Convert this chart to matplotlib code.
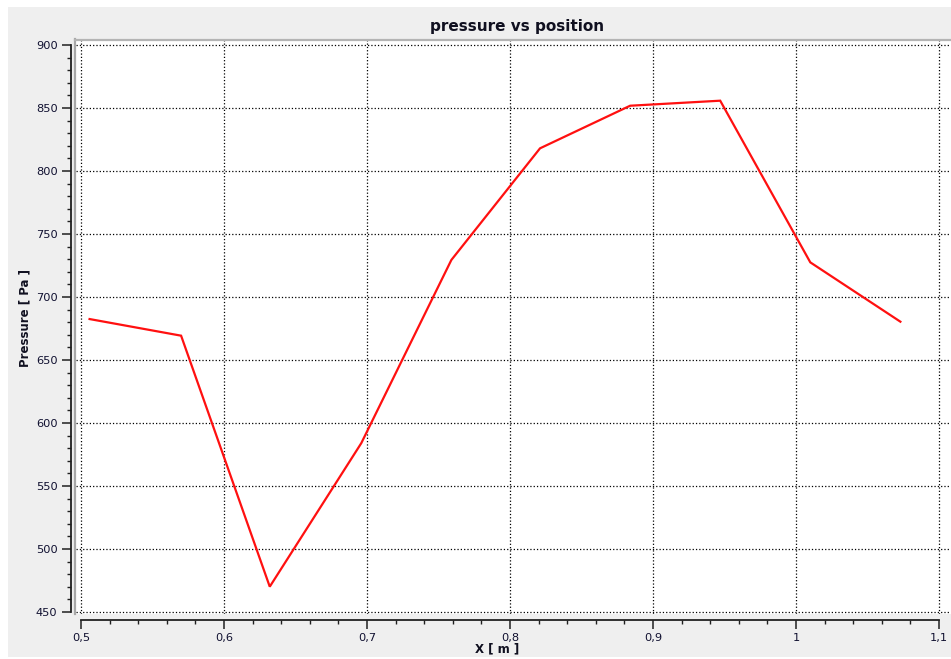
import numpy as np
import matplotlib.pyplot as plt
from matplotlib.patches import Rectangle
from matplotlib.lines import Line2D
from matplotlib.ticker import MultipleLocator, FuncFormatter

# pressure samples along the position axis
position = [0.506, 0.570, 0.632, 0.696, 0.759, 0.821, 0.884, 0.947, 1.010, 1.073]
pressure = [682.5, 669.3, 470.1, 584.0, 729.4, 818.0, 851.8, 855.8, 727.5, 680.4]

W, H = 951, 659
DPI = 100


def px(x, y):
    """pixel position (from top-left) -> figure fraction"""
    return x / W, 1 - y / H


def comma(v, pos):
    s = '%g' % round(v, 3)
    return s.replace('.', ',')


fig = plt.figure(figsize=(W / DPI, H / DPI), dpi=DPI, facecolor='white')

# grey widget background
fig.add_artist(Rectangle(px(8, 657), (W - 8) / W, 650 / H, transform=fig.transFigure,
                         facecolor='#efefef', edgecolor='none', zorder=-10))

# plot canvas
left, top, right, bottom = 76, 40, 951, 614
ax = fig.add_axes([left / W, 1 - bottom / H, (right - left) / W, (bottom - top) / H])
ax.set_facecolor('white')

ax.plot(position, pressure, color='#ff1010', lw=1.6, solid_joinstyle='miter')

x0 = 0.5 - 5 / 1430
x1 = 0.5 + (951 - 81) / 1430
ax.set_xlim(x0, x1)
ax.set_ylim(450 - 2 / 1.26, 900 + 5 / 1.26)

ax.xaxis.set_major_locator(MultipleLocator(0.1))
ax.xaxis.set_minor_locator(MultipleLocator(0.02))
ax.yaxis.set_major_locator(MultipleLocator(50))
ax.yaxis.set_minor_locator(MultipleLocator(10))
ax.xaxis.set_major_formatter(FuncFormatter(comma))

ax.grid(True, which='major', linestyle=':', color='black', lw=0.9)

for s in ('top', 'right'):
    ax.spines[s].set_visible(False)
ax.spines['left'].set_position(('outward', 3.6))
ax.spines['bottom'].set_position(('outward', 4.3))
ax.spines['left'].set_bounds(450, 900)
ax.spines['bottom'].set_bounds(0.5, 1.1)
for s in ('left', 'bottom'):
    ax.spines[s].set_color('#202020')
    ax.spines[s].set_linewidth(1.3)

ax.tick_params(which='major', direction='out', length=6.5, width=1.1, color='#202020',
               labelsize=8.2, labelcolor='#101030', pad=3.2)
ax.tick_params(which='minor', direction='out', length=3.2, width=1.0, color='#202020')

# sunken frame on the canvas edges
fig.add_artist(Line2D([75 / W, 75 / W], [1 - 614 / H, 1 - 39 / H], transform=fig.transFigure,
                      color='#a8a8a8', lw=1.6))
fig.add_artist(Line2D([75 / W, 1], [1 - 39.5 / H, 1 - 39.5 / H], transform=fig.transFigure,
                      color='#b4b4b4', lw=1.6))

fig.text(*px(517, 27), 'pressure vs position', ha='center', va='center',
         fontsize=11, fontweight='bold', color='#101020')
fig.text(*px(497, 649), 'X [ m ]', ha='center', va='center',
         fontsize=8.5, fontweight='bold', color='#101020')
fig.text(*px(25, 318), 'Pressure [ Pa ]', ha='center', va='center', rotation=90,
         fontsize=8.5, fontweight='bold', color='#101020')

fig.savefig('out.png', dpi=DPI, facecolor=fig.get_facecolor())
